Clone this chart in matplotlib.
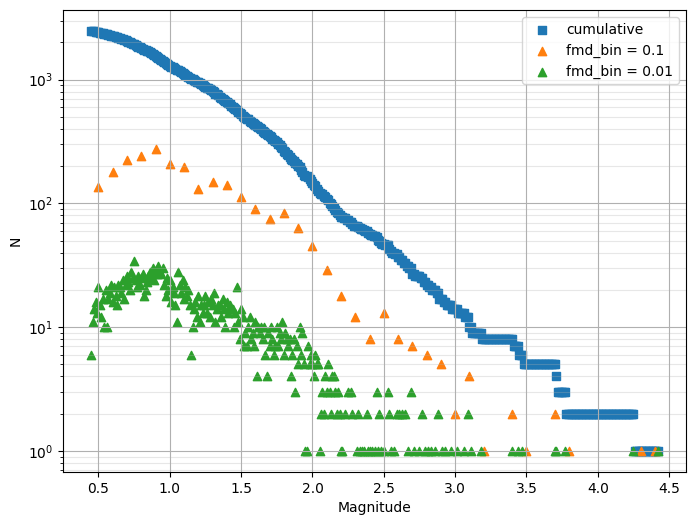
import numpy as np
import matplotlib
matplotlib.use("Agg")
import matplotlib.pyplot as plt

# event counts per 0.01 magnitude bin, one row per 0.1 bin (0.45 .. 3.14)
counts_001 = [
    6, 11, 14, 16, 13, 21, 15, 12, 17, 10,
    20, 10, 17, 19, 22, 16, 21, 18, 15, 22,
    21, 19, 24, 17, 22, 26, 23, 20, 28, 25,
    34, 24, 21, 26, 22, 25, 27, 18, 20, 23,
    26, 28, 25, 30, 24, 29, 27, 31, 28, 27,
    30, 22, 18, 25, 20, 24, 16, 21, 19, 15,
    11, 28, 22, 19, 24, 17, 21, 18, 20, 15,
    6, 10, 14, 16, 12, 18, 11, 15, 13, 15,
    18, 13, 16, 12, 17, 15, 19, 11, 14, 15,
    15, 12, 17, 14, 10, 16, 13, 15, 14, 14,
    10, 13, 21, 11, 8, 14, 12, 7, 9, 7,
    10, 12, 8, 9, 7, 11, 4, 10, 9, 10,
    8, 10, 6, 4, 9, 7, 10, 8, 6, 7,
    10, 7, 9, 8, 11, 6, 9, 8, 7, 8,
    4, 6, 8, 3, 7, 5, 10, 6, 9, 5,
    1, 1, 7, 5, 6, 5, 4, 6, 5, 5,
    1, 2, 3, 2, 4, 3, 5, 3, 2, 4,
    4, 3, 2, 3, 2, 1, 1, 0, 2, 0,
    3, 0, 3, 2, 0, 0, 1, 2, 1, 0,
    1, 1, 0, 2, 1, 1, 0, 1, 0, 1,
    3, 1, 2, 1, 0, 1, 0, 0, 3, 2,
    1, 0, 1, 0, 2, 0, 2, 0, 2, 0,
    2, 0, 1, 0, 3, 0, 1, 0, 0, 0,
    1, 0, 2, 0, 1, 0, 1, 0, 1, 0,
    0, 1, 0, 2, 0, 0, 1, 0, 1, 0,
    0, 0, 1, 0, 0, 0, 1, 0, 0, 0,
    0, 1, 0, 0, 2, 0, 1, 0, 0, 0,
]
# single events above 3.15
tail_mags = [3.18, 3.40, 3.44, 3.47, 3.70, 3.71, 3.77, 4.25, 4.42]

# counts in 0.1 bins
bin_01 = [0.5, 0.6, 0.7, 0.8, 0.9, 1.0, 1.1, 1.2, 1.3, 1.4,
          1.5, 1.6, 1.7, 1.8, 1.9, 2.0, 2.1, 2.2, 2.3, 2.4,
          2.5, 2.6, 2.7, 2.8, 2.9, 3.0, 3.1, 3.2, 3.4, 3.5,
          3.7, 3.8, 4.3, 4.4]
counts_01 = [135, 180, 225, 240, 275, 210, 195, 130, 150, 140,
             112, 90, 75, 83, 63, 45, 29, 18, 12, 8,
             13, 8, 7, 6, 5, 2, 4, 1, 2, 1,
             2, 1, 1, 1]

mags = np.round(np.arange(0.45, 4.425, 0.01), 2)
n001 = np.zeros(len(mags), dtype=int)
n001[:len(counts_001)] = counts_001
for m in tail_mags:
    n001[np.argmin(np.abs(mags - m))] += 1
cum = np.cumsum(n001[::-1])[::-1]

fig, ax = plt.subplots(figsize=(6.94, 5.25), dpi=100)
fig.subplots_adjust(left=63 / 694, right=686 / 694, top=1 - 10 / 525, bottom=1 - 472 / 525)

ax.scatter(mags, cum, marker="s", label="cumulative")
ax.scatter(bin_01, counts_01, marker="^", label="fmd_bin = 0.1")
keep = n001 > 0
ax.scatter(mags[keep], n001[keep], marker="^", label="fmd_bin = 0.01")

ax.set_yscale("log")
ax.set_xlabel("Magnitude")
ax.set_ylabel("N")
ax.grid(True, which="major")
ax.grid(True, which="minor", axis="y", alpha=0.3)
ax.legend(loc="upper right")

fig.savefig("out.png")
